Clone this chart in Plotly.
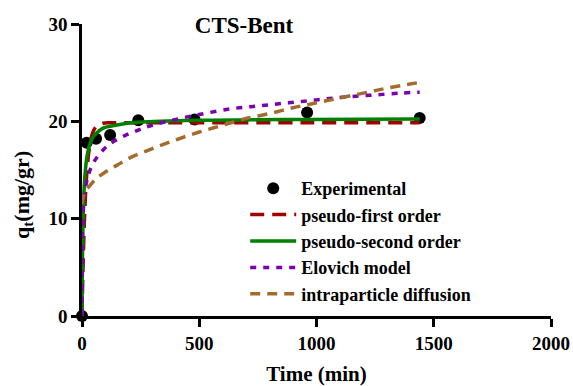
import plotly.graph_objects as go

exp_t = [0, 20, 60, 120, 240, 480, 960, 1440]
exp_q = [0, 17.8, 18.2, 18.6, 20.1, 20.2, 20.9, 20.35]

# pseudo-first order curve
pfo_t = [0, 2, 5, 10, 15, 20, 30, 45, 60, 90, 120, 240, 480, 960, 1440]
pfo_q = [0, 2.4, 5.5, 9.6, 12.5, 14.5, 17.0, 18.8, 19.45, 19.8, 19.85, 19.85, 19.85, 19.85, 19.85]

# pseudo-second order curve
pso_t = [0, 1, 2, 5, 10, 20, 30, 45, 60, 90, 120, 180, 240, 480, 960, 1440]
pso_q = [0, 3.4, 5.8, 10.15, 13.5, 16.2, 17.4, 18.3, 18.75, 19.3, 19.5, 19.76, 19.9, 20.1, 20.2, 20.23]

# Elovich model curve
elo_t = [0, 0.1, 0.5, 1, 3, 10, 20, 30, 50, 80, 120, 180, 240, 300, 400, 500, 640, 760, 880, 1000, 1120, 1240, 1360, 1440]
elo_q = [0, 2.6, 5.9, 7.4, 9.8, 12.4, 13.8, 14.7, 15.8, 16.8, 17.7, 18.5, 19.1, 19.6, 20.2, 20.7, 21.3, 21.6, 21.9, 22.2, 22.5, 22.7, 22.9, 23.0]

# intraparticle diffusion curve
ipd_t = [0, 5, 15, 30, 60, 100, 150, 200, 300, 400, 500, 600, 700, 800, 900, 1000, 1100, 1200, 1300, 1440]
ipd_q = [11.5, 12.2, 12.8, 13.3, 14.1, 14.8, 15.5, 16.2, 17.2, 18.1, 18.9, 19.6, 20.3, 20.8, 21.4, 21.9, 22.4, 22.9, 23.4, 24.0]

x_ticks = [0, 500, 1000, 1500, 2000]
y_ticks = [0, 10, 20, 30]

FONT = "Liberation Serif"

fig = go.Figure()
fig.add_trace(go.Scatter(x=exp_t, y=exp_q, mode="markers", name="<b>Experimental</b>",
                         marker=dict(color="black", size=12, symbol="circle"),
                         cliponaxis=False, legendgroup="a"))
fig.add_trace(go.Scatter(x=pfo_t, y=pfo_q, mode="lines", name="<b>pseudo-first order</b>",
                         line=dict(color="#A00000", width=3.5, dash="14px,8px", shape="spline"),
                         legendgroup="b"))
fig.add_trace(go.Scatter(x=pso_t, y=pso_q, mode="lines", name="<b>pseudo-second order</b>",
                         line=dict(color="#008000", width=3.5, shape="spline"),
                         legendgroup="c"))
fig.add_trace(go.Scatter(x=elo_t, y=elo_q, mode="lines", name="<b>Elovich model</b>",
                         line=dict(color="#7A00B0", width=3.5, dash="6px,7px", shape="spline"),
                         legendgroup="d"))
fig.add_trace(go.Scatter(x=ipd_t, y=ipd_q, mode="lines", name="<b>intraparticle diffusion</b>",
                         line=dict(color="#A36C2C", width=3.5, dash="10px,7px", shape="spline"),
                         legendgroup="e"))

axis_common = dict(showline=True, linecolor="black", linewidth=2.5, ticks="outside",
                   tickwidth=2.5, ticklen=8, tickcolor="black", showgrid=False, zeroline=False,
                   tickfont=dict(family=FONT, size=19, color="black"))

fig.update_layout(
    width=573, height=386,
    margin=dict(l=81.6, r=22, t=24.3, b=69.5, autoexpand=False),
    plot_bgcolor="white", paper_bgcolor="white",
    font=dict(family=FONT, color="black"),
    title=dict(text="<b>CTS-Bent</b>", x=244/573, xanchor="center", y=1 - 25/386, yanchor="middle",
               font=dict(family=FONT, size=23, color="black")),
    xaxis=dict(range=[0, 2000], tickvals=x_ticks, ticktext=[f"<b>{v}</b>" for v in x_ticks],
               title=dict(text="<b>Time (min)</b>", font=dict(family=FONT, size=21), standoff=16),
               **axis_common),
    yaxis=dict(range=[0, 30], tickvals=y_ticks, ticktext=[f"<b>{v}</b>" for v in y_ticks],
               **axis_common),
    annotations=[dict(text="<b>q<sub>t</sub>(mg/gr)</b>", textangle=-90, xref="paper", yref="paper",
                      x=(22 - 81.6) / 469.4, y=(316.5 - 195) / 292.2, xanchor="center", yanchor="middle",
                      showarrow=False, font=dict(family=FONT, size=22, color="black"))],
    legend=dict(x=0.348, y=0.50, xanchor="left", yanchor="top", bgcolor="rgba(0,0,0,0)",
                font=dict(family=FONT, size=18, color="black"), tracegroupgap=0,
                itemwidth=46),
    showlegend=True,
)

fig.write_html("out.html")
